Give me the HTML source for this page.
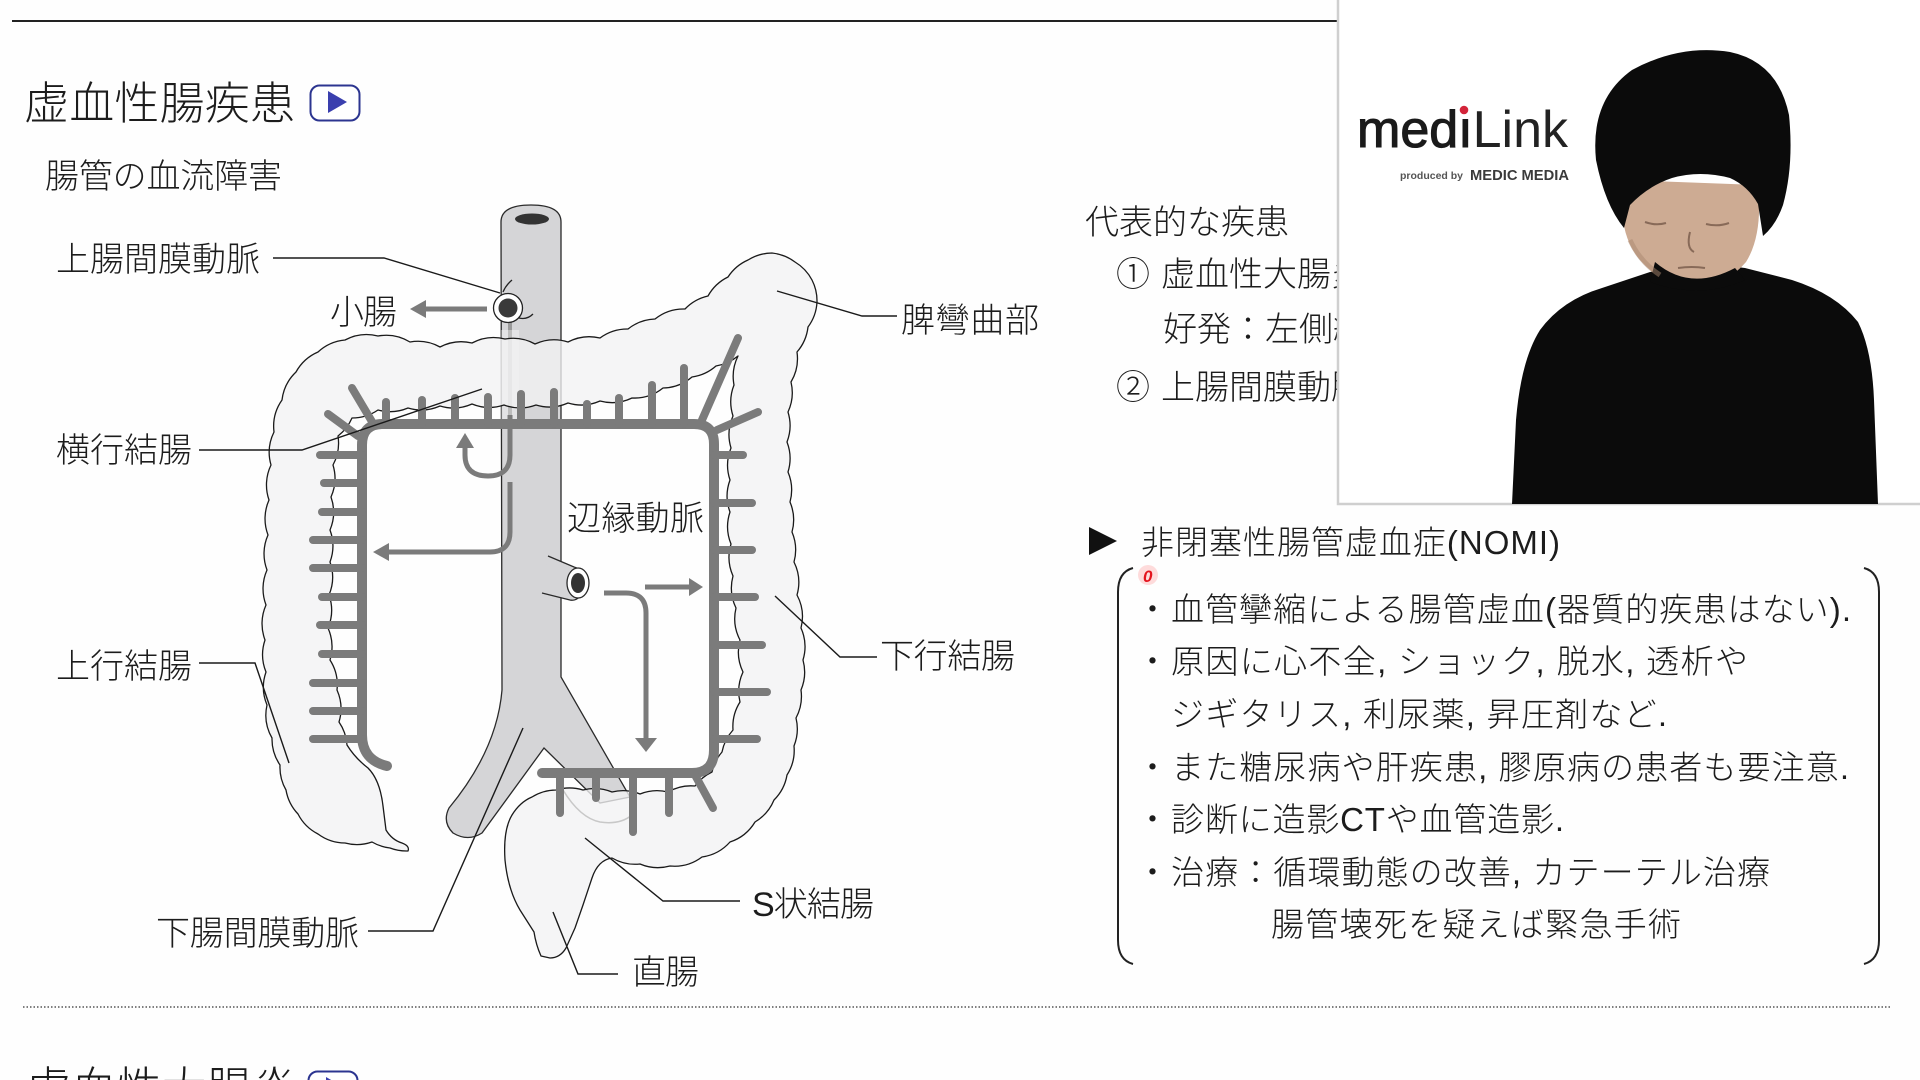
<!DOCTYPE html>
<html lang="ja">
<head>
<meta charset="utf-8">
<style>
  html,body{margin:0;padding:0;background:#fff;}
  body{width:1920px;height:1080px;overflow:hidden;}
  svg{display:block;}
  .jp{font-family:"Liberation Sans","Noto Sans CJK JP",sans-serif;fill:#1c1c1c;font-weight:300;}
</style>
</head>
<body>
<svg width="1920" height="1080" viewBox="0 0 1920 1080" xmlns="http://www.w3.org/2000/svg">
  <rect x="0" y="0" width="1920" height="1080" fill="#fefefe"/>

  <!-- top rule -->
  <line x1="12" y1="21" x2="1340" y2="21" stroke="#222" stroke-width="2"/>

  <!-- title -->
  <text class="jp" x="24" y="119" font-size="45" textLength="271" lengthAdjust="spacing">虚血性腸疾患</text>
  <rect x="310.5" y="85.5" width="49" height="35" rx="9" fill="#fff" stroke="#2c3590" stroke-width="2"/>
  <polygon points="328,91 347,102 328,113" fill="#3a3fae"/>

  <text class="jp" x="45" y="188" font-size="34" textLength="237" lengthAdjust="spacing">腸管の血流障害</text>

  <!-- ============ DIAGRAM ============ -->
  <!-- aorta + iliacs -->
  <path d="M501,222 Q501,205 531,205 Q561,205 561,222 L561,677 L630,797 L600,803 L544,748 L482,833 Q468,842 453,833 Q442,822 449,808 Q497,750 502,690 Z"
        fill="#d5d5d7" stroke="#2a2a2a" stroke-width="1.3"/>
  <ellipse cx="532" cy="219" rx="17" ry="5.5" fill="#333"/>

  <!-- SMA segment behind colon -->
  <line x1="510" y1="322" x2="510" y2="420" stroke="#9a9a9a" stroke-width="4"/>
  <rect x="501" y="330" width="18" height="90" fill="#ffffff" opacity="0.35"/>

  <!-- colon -->
  <path fill="#f2f2f4" fill-opacity="0.78" stroke="#1a1a1a" stroke-width="1.3" stroke-linejoin="round" d="
M408,851
A46,46 0 0 1 390,848 A46,46 0 0 1 372,842 A46,46 0 0 1 345,843 A46,46 0 0 1 318,834
A46,46 0 0 1 298,814 A46,46 0 0 1 286,790 A46,46 0 0 1 280,765 A46,46 0 0 1 272,738
A46,46 0 0 1 267,705 A46,46 0 0 1 266,672 A46,46 0 0 1 265,640 A46,46 0 0 1 266,605
A46,46 0 0 1 267,570 A46,46 0 0 1 268,535 A46,46 0 0 1 269,500 A46,46 0 0 1 271,465
A46,46 0 0 1 274,432 A46,46 0 0 1 282,400 A46,46 0 0 1 296,372 A46,46 0 0 1 318,352
A46,46 0 0 1 345,340 A46,46 0 0 1 378,336 A46,46 0 0 1 410,342 A46,46 0 0 1 440,347
A46,46 0 0 1 472,343 A46,46 0 0 1 505,339 A46,46 0 0 1 535,344 A46,46 0 0 1 568,342
A46,46 0 0 1 600,338 A46,46 0 0 1 628,329 A46,46 0 0 1 655,319 A46,46 0 0 1 685,309
A46,46 0 0 1 708,296 A46,46 0 0 1 728,277 A46,46 0 0 1 748,260 A46,46 0 0 1 772,253
A46,46 0 0 1 795,262 A46,46 0 0 1 812,280 A46,46 0 0 1 817,302 A46,46 0 0 1 808,327
A46,46 0 0 1 797,352 A46,46 0 0 1 791,382 A46,46 0 0 1 788,412 A46,46 0 0 1 787,442
A46,46 0 0 1 788,472 A46,46 0 0 1 790,502 A46,46 0 0 1 792,532 A46,46 0 0 1 794,562
A46,46 0 0 1 797,595 A46,46 0 0 1 801,628 A46,46 0 0 1 803,660 A46,46 0 0 1 801,690
A46,46 0 0 1 796,718 A46,46 0 0 1 794,746 A46,46 0 0 1 787,775 A46,46 0 0 1 774,800
A46,46 0 0 1 755,822 A46,46 0 0 1 730,842 A46,46 0 0 1 702,857 A46,46 0 0 1 670,866
A46,46 0 0 1 640,864 A46,46 0 0 1 612,858
Q598,860 592,878 L583,905 L575,928 L566,948 Q560,958 550,958 L541,956 Q536,945 534,932
L520,910 Q508,890 505,860 Q503,830 512,815 Q520,802 532,797
A46,46 0 0 1 556,790 A46,46 0 0 1 583,790 A46,46 0 0 1 612,792 A46,46 0 0 1 640,794
A46,46 0 0 1 668,792 A46,46 0 0 1 695,786 A46,46 0 0 1 712,772 A46,46 0 0 1 722,752
A46,46 0 0 1 733,730 A46,46 0 0 1 740,702 A46,46 0 0 1 743,672 A46,46 0 0 1 740,640
A46,46 0 0 1 736,608 A46,46 0 0 1 733,576 A46,46 0 0 1 731,544 A46,46 0 0 1 730,512
A46,46 0 0 1 730,480 A46,46 0 0 1 731,448 A46,46 0 0 1 733,416 A46,46 0 0 1 734,385
A46,46 0 0 1 738,356 A46,46 0 0 1 716,366 A46,46 0 0 1 692,377 A46,46 0 0 1 663,388
A46,46 0 0 1 632,398 A46,46 0 0 1 600,401 A46,46 0 0 1 568,403 A46,46 0 0 1 536,405
A46,46 0 0 1 504,405 A46,46 0 0 1 472,404 A46,46 0 0 1 440,406 A46,46 0 0 1 408,408
A46,46 0 0 1 378,410 A46,46 0 0 1 352,418 A46,46 0 0 1 338,436 A46,46 0 0 1 333,465
A46,46 0 0 1 331,497 A46,46 0 0 1 330,530 A46,46 0 0 1 330,562 A46,46 0 0 1 329,595
A46,46 0 0 1 328,628 A46,46 0 0 1 330,660 A46,46 0 0 1 337,690 A46,46 0 0 1 339,722
A46,46 0 0 1 347,745
Q355,758 368,768 Q380,780 383,806 L386,830 Q392,840 402,843 Q410,846 408,851 Z"/>

  <!-- faint sigmoid curve -->
  <path d="M563,790 Q580,818 600,822 Q620,825 632,815" fill="none" stroke="#c8c8c8" stroke-width="1.5"/>

  <!-- marginal artery -->
  <g stroke="#7b7b7b" stroke-linecap="round" fill="none">
    <path d="M387,766 Q362,760 362,735 V445 Q362,424 383,424 H694 Q714,424 714,444 V750 Q714,773 692,773 H542" stroke-width="10"/>
    <g stroke-width="8">
      <line x1="386" y1="424" x2="386" y2="402"/>
      <line x1="422" y1="424" x2="422" y2="400"/>
      <line x1="455" y1="424" x2="455" y2="398"/>
      <line x1="488" y1="424" x2="488" y2="397"/>
      <line x1="521" y1="424" x2="521" y2="394"/>
      <line x1="554" y1="424" x2="554" y2="392"/>
      <line x1="587" y1="424" x2="587" y2="404"/>
      <line x1="619" y1="424" x2="619" y2="398"/>
      <line x1="652" y1="424" x2="652" y2="385"/>
      <line x1="684" y1="424" x2="684" y2="368"/>
      <line x1="374" y1="425" x2="352" y2="388"/>
      <line x1="358" y1="436" x2="328" y2="414"/>
      <line x1="702" y1="420" x2="738" y2="338"/>
      <line x1="717" y1="430" x2="758" y2="412"/>
      <line x1="362" y1="455" x2="320" y2="455"/>
      <line x1="362" y1="483" x2="324" y2="483"/>
      <line x1="362" y1="512" x2="322" y2="512"/>
      <line x1="362" y1="540" x2="313" y2="540"/>
      <line x1="362" y1="568" x2="313" y2="568"/>
      <line x1="362" y1="597" x2="322" y2="597"/>
      <line x1="362" y1="625" x2="320" y2="625"/>
      <line x1="362" y1="654" x2="322" y2="654"/>
      <line x1="362" y1="683" x2="313" y2="683"/>
      <line x1="362" y1="711" x2="313" y2="711"/>
      <line x1="362" y1="739" x2="313" y2="739"/>
      <line x1="714" y1="455" x2="743" y2="455"/>
      <line x1="714" y1="503" x2="752" y2="503"/>
      <line x1="714" y1="550" x2="752" y2="550"/>
      <line x1="714" y1="597" x2="755" y2="597"/>
      <line x1="714" y1="645" x2="762" y2="645"/>
      <line x1="714" y1="692" x2="767" y2="692"/>
      <line x1="714" y1="739" x2="757" y2="739"/>
      <line x1="560" y1="773" x2="560" y2="813"/>
      <line x1="596" y1="773" x2="596" y2="798"/>
      <line x1="633" y1="773" x2="633" y2="832"/>
      <line x1="669" y1="773" x2="669" y2="813"/>
      <line x1="695" y1="775" x2="713" y2="808"/>
    </g>
  </g>

  <!-- SMA origin ring -->
  <circle cx="508" cy="308" r="14.5" fill="#fff" stroke="#222" stroke-width="1.3"/>
  <circle cx="508" cy="308" r="9.5" fill="#3a3a3a"/>
  <path d="M503,292 Q506,285 512,280" fill="none" stroke="#222" stroke-width="1.3"/>
  <path d="M519,318 Q527,320 533,314" fill="none" stroke="#222" stroke-width="1.3"/>

  <!-- IMA stub -->
  <path d="M548,556 L574,567 A12,16 0 0 1 570,600 L542,593" fill="#d5d5d7" stroke="#2a2a2a" stroke-width="1.3"/>
  <ellipse cx="578" cy="583" rx="11" ry="15" fill="#fff" stroke="#2a2a2a" stroke-width="1.3"/>
  <ellipse cx="578" cy="583" rx="7" ry="10" fill="#333"/>

  <!-- flow arrows -->
  <g stroke="#7b7b7b" stroke-width="5" fill="none" stroke-linecap="butt">
    <line x1="487" y1="309" x2="424" y2="309"/>
    <path d="M510,415 V455 Q510,476 488,476 Q465,476 465,455 V446"/>
    <path d="M510,482 V532 Q510,552 490,552 H387"/>
    <path d="M604,593 H626 Q646,593 646,613 V740"/>
    <line x1="645" y1="587" x2="690" y2="587"/>
  </g>
  <g fill="#7b7b7b">
    <polygon points="410,309 426,300 426,318"/>
    <polygon points="465,433 456,448 474,448"/>
    <polygon points="373,552 389,543 389,561"/>
    <polygon points="646,752 635,738 657,738"/>
    <polygon points="703,587 689,578 689,596"/>
  </g>

  <!-- leader lines -->
  <g stroke="#1a1a1a" stroke-width="1.4" fill="none">
    <polyline points="273,258 384,258 500,293"/>
    <polyline points="199,450 302,450 482,389"/>
    <polyline points="199,663 255,663 289,763"/>
    <polyline points="368,931 433,931 523,728"/>
    <polyline points="618,974 578,974 553,912"/>
    <polyline points="740,901 663,901 585,838"/>
    <polyline points="877,657 840,657 775,596"/>
    <polyline points="897,316 862,316 777,291"/>
  </g>

  <!-- labels -->
  <g class="jp" font-size="34">
    <text x="56" y="271" textLength="204" lengthAdjust="spacing">上腸間膜動脈</text>
    <text x="330" y="324" textLength="67" lengthAdjust="spacing">小腸</text>
    <text x="56" y="462" textLength="136" lengthAdjust="spacing">横行結腸</text>
    <text x="56" y="678" textLength="136" lengthAdjust="spacing">上行結腸</text>
    <text x="156" y="945" textLength="203" lengthAdjust="spacing">下腸間膜動脈</text>
    <text x="632" y="984" textLength="67" lengthAdjust="spacing">直腸</text>
    <text x="752" y="916" textLength="122" lengthAdjust="spacing">S状結腸</text>
    <text x="880" y="668" textLength="135" lengthAdjust="spacing">下行結腸</text>
    <text x="901" y="332" textLength="138" lengthAdjust="spacing">脾彎曲部</text>
    <text x="567" y="530" textLength="137" lengthAdjust="spacing">辺縁動脈</text>
  </g>

  <!-- ============ RIGHT TEXT ============ -->
  <g class="jp" font-size="34">
    <text x="1085" y="234" textLength="204" lengthAdjust="spacing">代表的な疾患</text>
    <text x="1116" y="286">①</text>
    <text x="1161" y="286" textLength="204" lengthAdjust="spacing">虚血性大腸炎</text>
    <text x="1163" y="341" textLength="238" lengthAdjust="spacing">好発：左側結腸</text>
    <text x="1116" y="399">②</text>
    <text x="1161" y="399" textLength="306" lengthAdjust="spacing">上腸間膜動脈閉塞症</text>
  </g>

  <polygon points="1089,527 1117,541 1089,555" fill="#111"/>
  <g class="jp" font-size="33">
    <text x="1141" y="554" textLength="419" lengthAdjust="spacing">非閉塞性腸管虚血症(NOMI)</text>

    <text x="1136" y="621">・</text>
    <text x="1171" y="621" textLength="680" lengthAdjust="spacing">血管攣縮による腸管虚血(器質的疾患はない).</text>
    <text x="1136" y="673">・</text>
    <text x="1171" y="673" textLength="577" lengthAdjust="spacing">原因に心不全, ショック, 脱水, 透析や</text>
    <text x="1171" y="726" textLength="496" lengthAdjust="spacing">ジギタリス, 利尿薬, 昇圧剤など.</text>
    <text x="1136" y="779">・</text>
    <text x="1171" y="779" textLength="678" lengthAdjust="spacing">また糖尿病や肝疾患, 膠原病の患者も要注意.</text>
    <text x="1136" y="831">・</text>
    <text x="1171" y="831" textLength="393" lengthAdjust="spacing">診断に造影CTや血管造影.</text>
    <text x="1136" y="884">・</text>
    <text x="1171" y="884" textLength="599" lengthAdjust="spacing">治療：循環動態の改善, カテーテル治療</text>
    <text x="1271" y="936" textLength="410" lengthAdjust="spacing">腸管壊死を疑えば緊急手術</text>
  </g>

  <!-- brackets -->
  <g stroke="#222" stroke-width="2" fill="none">
    <path d="M1133,568 Q1118,572 1118,592 V940 Q1118,960 1133,964"/>
    <path d="M1864,568 Q1879,572 1879,592 V940 Q1879,960 1864,964"/>
  </g>

  <!-- red pointer mark -->
  <circle cx="1148" cy="575" r="10" fill="#ff3b3b" opacity="0.18"/>
  <text x="1143" y="582" font-family="Liberation Sans, sans-serif" font-size="17" font-weight="bold" font-style="italic" fill="#e4141e">0</text>

  <!-- dotted separator -->
  <line x1="23" y1="1007" x2="1890" y2="1007" stroke="#555" stroke-width="1.5" stroke-dasharray="1.5,2"/>

  <!-- next heading (cut off) -->
  <text class="jp" x="26" y="1104" font-size="45" textLength="271" lengthAdjust="spacing">虚血性大腸炎</text>
  <rect x="308.5" y="1071.5" width="49" height="35" rx="9" fill="#fff" stroke="#2c3590" stroke-width="2"/>
  <polygon points="326,1077 345,1088 326,1099" fill="#3a3fae"/>

  <!-- ============ VIDEO PANEL ============ -->
  <rect x="1338" y="-3" width="585" height="507" fill="#ffffff" stroke="#cfcfcf" stroke-width="2.5"/>

  <!-- logo -->
  <text x="1357" y="147" font-family="Liberation Sans, sans-serif" font-size="52" fill="#1a1a1a"><tspan stroke="#1a1a1a" stroke-width="1.1">medı</tspan><tspan fill="#222">Link</tspan></text>
  <circle cx="1464" cy="110" r="4.3" fill="#d3243a"/>
  <text x="1400" y="179" font-family="Liberation Sans, sans-serif" font-size="10.5" font-weight="bold" fill="#555">produced by</text>
  <text x="1470" y="180" font-family="Liberation Sans, sans-serif" font-size="14.5" font-weight="bold" fill="#3a3a3a" textLength="99" lengthAdjust="spacingAndGlyphs">MEDIC MEDIA</text>

  <!-- person -->
  <path d="M1512,504 L1516,420 Q1521,360 1540,330 Q1562,300 1602,288 L1650,272 Q1700,262 1745,268 L1792,280 Q1836,294 1858,322 Q1872,350 1874,400 L1878,504 Z" fill="#0b0b0b"/>
  <path d="M1624,180 Q1616,232 1640,260 Q1664,287 1692,288 Q1727,285 1746,262 Q1763,235 1758,185 Z" fill="#cdab93"/>
  <path d="M1655,262 Q1690,292 1735,268 L1745,280 Q1700,300 1650,282 Z" fill="#0b0b0b"/>
  <path d="M1596,160 Q1590,100 1632,70 Q1680,44 1730,52 Q1778,62 1789,115 Q1794,165 1783,205 Q1776,225 1763,236 L1758,204 Q1748,186 1730,178 Q1700,170 1672,178 Q1648,186 1630,205 L1624,228 Q1605,205 1596,160 Z" fill="#0b0b0b"/>
  <g stroke="#6b4f40" stroke-width="2" fill="none" opacity="0.7">
    <path d="M1645,222 Q1656,226 1666,223"/>
    <path d="M1706,224 Q1718,227 1729,223"/>
    <path d="M1690,232 Q1686,248 1694,252"/>
    <path d="M1678,268 Q1692,266 1705,268"/>
  </g>
  <path d="M1630,240 Q1640,262 1660,275" stroke="#a9876f" stroke-width="5" fill="none" opacity="0.5"/>
</svg>
</body>
</html>
